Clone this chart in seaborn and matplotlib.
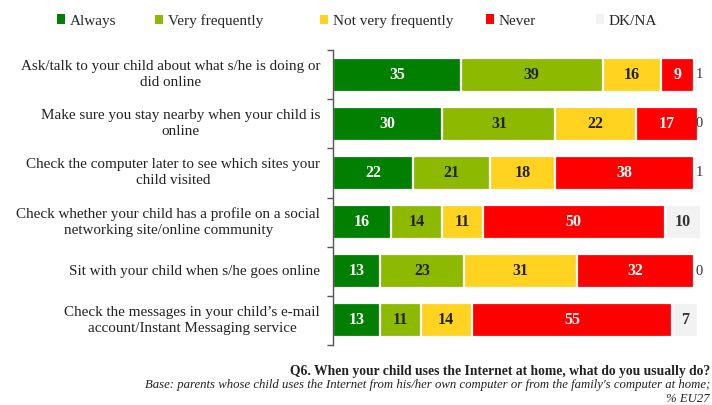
import numpy as np
import pandas as pd
import matplotlib
matplotlib.use("Agg")
import matplotlib.pyplot as plt
from matplotlib.patches import Patch
import seaborn as sns

categories = [
    "Ask/talk to your child about what s/he is doing or\ndid online",
    "Make sure you stay nearby when your child is\nonline",
    "Check the computer later to see which sites your\nchild visited",
    "Check whether your child has a profile on a social\nnetworking site/online community",
    "Sit with your child when s/he goes online",
    "Check the messages in your child\u2019s e-mail\naccount/Instant Messaging service",
]
series = ["Always", "Very frequently", "Not very frequently", "Never", "DK/NA"]
always = [35, 30, 22, 16, 13, 13]
very_freq = [39, 31, 21, 14, 23, 11]
not_very = [16, 22, 18, 11, 31, 14]
never = [9, 17, 38, 50, 32, 55]
dkna = [1, 0, 1, 10, 0, 7]

colors = ["#007F00", "#8DBA00", "#FFD320", "#FF0000", "#F2F2F2"]
text_colors = ["white", "#222222", "#222222", "white", "#333333"]

sns.set_theme(style="white")
plt.rcParams["font.family"] = ["Liberation Serif", "DejaVu Serif"]

values = np.array([always, very_freq, not_very, never, dkna], dtype=float)
cum = values.cumsum(axis=0)

fig = plt.figure(figsize=(7.12, 4.05), dpi=100)
ax = fig.add_axes([333 / 712, 1 - 345 / 405, 372 / 712, 295 / 405])

# stacked bars: draw cumulative totals from the outermost segment inward
for i in range(len(series) - 1, -1, -1):
    df = pd.DataFrame({"cat": categories, "val": cum[i]})
    sns.barplot(data=df, x="val", y="cat", orient="h", color=colors[i],
                saturation=1, width=0.69, edgecolor="white", linewidth=1.6,
                ax=ax)

# value labels
for i in range(len(series)):
    for j in range(len(categories)):
        v = values[i, j]
        start = cum[i, j] - v
        if i == len(series) - 1 and v < 3:
            ax.text(100.4, j, f"{int(v)}", ha="center", va="center",
                    fontsize=10.5, color="#333333")
        elif v > 0:
            ax.text(start + v / 2, j, f"{int(v)}", ha="center", va="center",
                    fontsize=11.5, fontweight="bold", color=text_colors[i])

ax.set_xlim(0, 102)
ax.set_ylim(5.5, -0.5)
ax.set_xlabel("")
ax.set_ylabel("")
ax.set_xticks([])
ax.set_yticks(np.arange(-0.5, 6, 1))
ax.set_yticklabels([])
ax.tick_params(axis="y", length=4, width=1, color="#555555", left=True)
for s in ["top", "right", "bottom"]:
    ax.spines[s].set_visible(False)
ax.spines["left"].set_color("#555555")
ax.spines["left"].set_linewidth(1)

for j, c in enumerate(categories):
    ax.text(-3.5, j, c, ha="right", va="center", multialignment="center",
            fontsize=10.9, color="#222222", linespacing=1.3)

# legend entries placed at their own horizontal positions
legend_x = [57, 155, 320, 486, 596]
for name, col, lx in zip(series, colors, legend_x):
    lg = fig.legend([Patch(facecolor=col, edgecolor="none")], [name],
                    loc="center left", bbox_to_anchor=(lx / 712, 1 - 21 / 405),
                    frameon=False, fontsize=11, handlelength=0.55,
                    handleheight=0.55, handletextpad=0.3, borderpad=0,
                    borderaxespad=0)

fig.text(0.997, 1 - 371 / 405,
         "Q6. When your child uses the Internet at home, what do you usually do?",
         ha="right", va="center", fontsize=9.8, fontweight="bold",
         color="#222222")
fig.text(0.997, 1 - 385 / 405,
         "Base: parents whose child uses the Internet from his/her own computer "
         "or from the family's computer at home;",
         ha="right", va="center", fontsize=9.15, style="italic", color="#222222")
fig.text(0.997, 1 - 399 / 405, "% EU27", ha="right", va="center",
         fontsize=9.15, style="italic", color="#222222")

fig.savefig("out.png", dpi=100)
